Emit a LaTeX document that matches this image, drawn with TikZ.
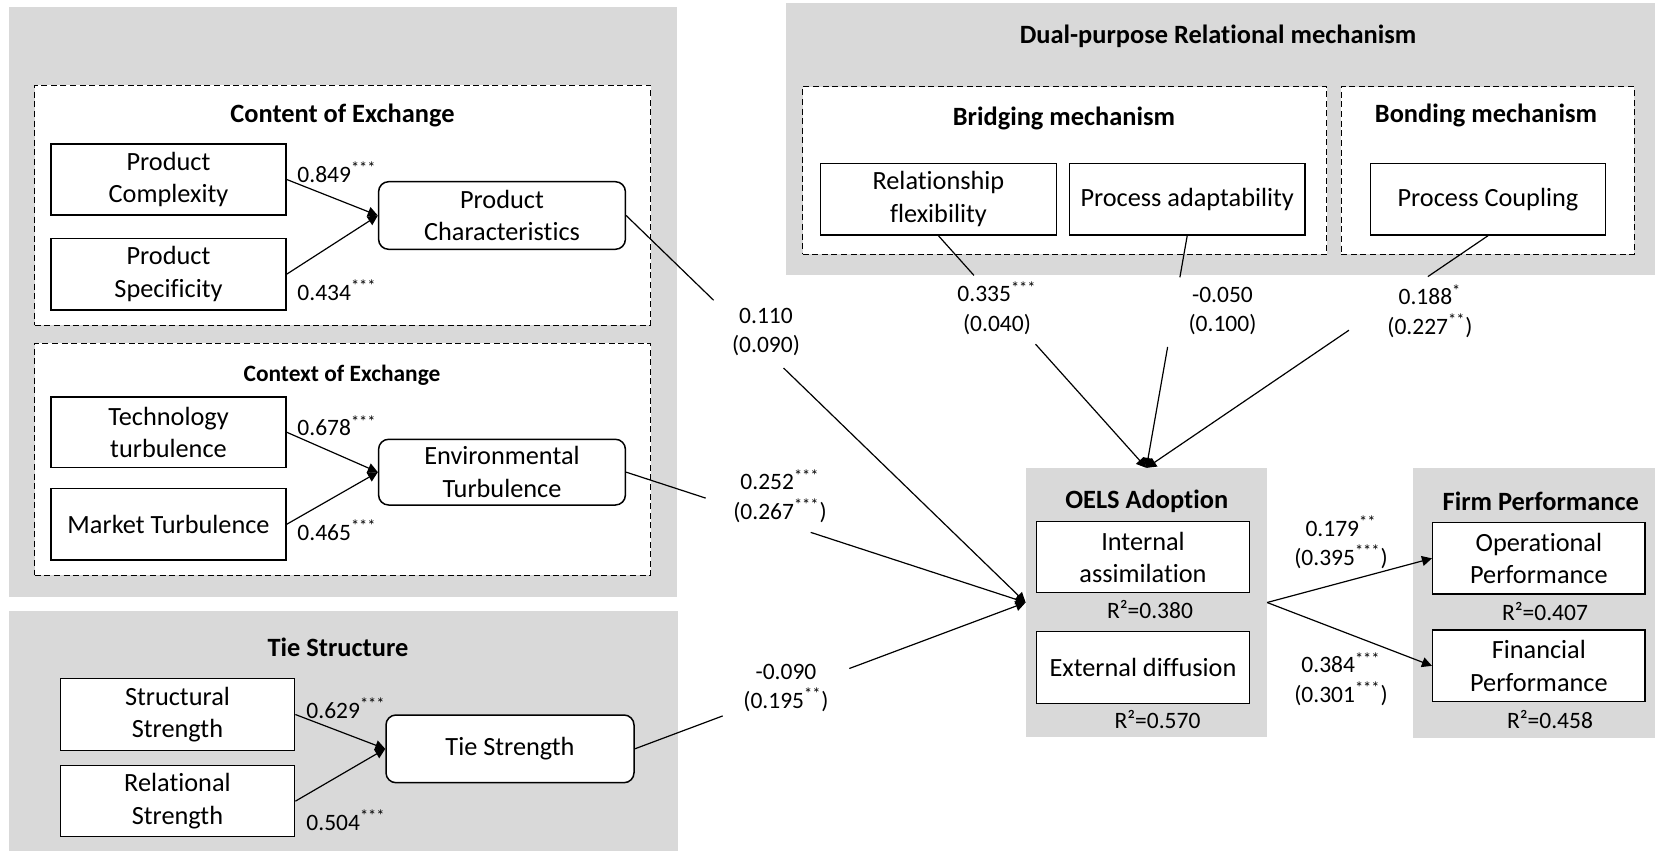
\documentclass[tikz,border=0pt]{standalone}
\usepackage{fontspec}
\setmainfont{Carlito}[Ligatures=NoCommon]
\usetikzlibrary{arrows.meta,calc,fit}
\definecolor{panelgray}{RGB}{217,217,217}
\newcommand\bodysize{\fontsize{13.15}{16.2}\selectfont}
\newcommand\coefsize{\fontsize{11.75}{14.6}\selectfont}
\newcommand\sig[1]{\textsuperscript{#1}}
\begin{document}
\begin{tikzpicture}[x=0.5pt,y=-0.5pt,
  panel/.style={fill=panelgray, draw=none, inner sep=0pt},
  dashbox/.style={draw, fill=white, dash pattern=on 3pt off 1.8pt, line width=0.5pt, inner sep=0pt},
  box/.style={draw, fill=white, line width=0.75pt, inner sep=0pt, align=center, font=\bodysize},
  wide/.style 2 args={minimum width=#1, minimum height=#2},
  rbox/.style={box, rounded corners=5pt},
  heading/.style={font=\bfseries\fontsize{13.2}{16}\selectfont, inner sep=0pt},
  subheading/.style={font=\bfseries\fontsize{11.7}{14}\selectfont, inner sep=0pt},
  coef/.style={font=\coefsize, align=center, inner sep=0pt},
  link/.style={line width=0.6pt},
  arr/.style={link, -{Triangle[length=5pt,width=5pt]}}]
\useasboundingbox (0,0) rectangle (1655,851);

% grey panels
\node[panel, fit={(8.7,6.7)(677,597)}] (pA) {};
\node[panel, fit={(785.7,3.3)(1655,275)}] (pB) {};
\node[panel, fit={(8.9,610.7)(677.6,851)}] (pC) {};
\node[panel, fit={(1026,468.3)(1266.7,736.7)}] (oels) {};
\node[panel, fit={(1413.3,468.3)(1655,738.3)}] (firm) {};

% dashed groups
\node[dashbox, fit={(34.7,85)(650.5,325)}] (dContent) {};
\node[dashbox, fit={(34.7,343.3)(650.5,575)}] (dContext) {};
\node[dashbox, fit={(802.5,86.7)(1326.9,254.3)}] (dBridge) {};
\node[dashbox, fit={(1341.2,86.7)(1634,254.3)}] (dBond) {};

% headings
\node[heading] (hContent) at (342.5,115) {Content of Exchange};
\node[subheading] (hContext) at (342,375) {Context of Exchange};
\node[heading] (hTie) at (338,647) {Tie Structure};
\node[heading] (hDual) at (1218,36.7) {Dual-purpose Relational mechanism};
\node[heading] (hBridge) at (1064,118.3) {Bridging mechanism};
\node[heading] (hBond) at (1486,115) {Bonding mechanism};
\node[heading] (hOels) at (1146.7,501.7) {OELS Adoption};
\node[heading] (hFirm) at (1540.8,501.7) {Firm Performance};

% constructs
\node[box, wide={117.5pt}{35.5pt}] (pcx) at (168.5,179.5) {Product\\Complexity};
\node[box, wide={117.5pt}{35.85pt}] (psp) at (168.5,274.15) {Product\\Specificity};
\node[rbox, wide={123.4pt}{33.8pt}] (pch) at (502,215.5) {Product\\Characteristics};
\node[box, wide={117.5pt}{35.25pt}] (ttb) at (168.5,432.25) {Technology\\turbulence};
\node[box, wide={117.5pt}{35.75pt}] (mtb) at (168.5,524.25) {Market Turbulence};
\node[rbox, wide={123.4pt}{32.85pt}] (env) at (502,472.15) {Environmental\\Turbulence};
\node[box, wide={117.15pt}{36.2pt}] (sst) at (177.45,714.5) {Structural\\Strength};
\node[box, wide={117.15pt}{35.5pt}] (rst) at (177.45,801.2) {Relational\\Strength};
\node[rbox, wide={124pt}{33.85pt}] (tie) at (510,748.85) {Tie Strength};
\node[box, wide={117.85pt}{35.85pt}] (rfx) at (938.45,199.15) {Relationship\\flexibility};
\node[box, wide={117.8pt}{35.85pt}] (pad) at (1187.2,199.15) {Process adaptability};
\node[box, wide={117.55pt}{35.85pt}] (pcp) at (1487.95,199.15) {Process Coupling};
\node[box, wide={106.3pt}{35.5pt}] (ias) at (1143,557.2) {Internal\\assimilation};
\node[box, wide={106.3pt}{35.8pt}] (edf) at (1143,667.5) {External diffusion};
\node[box, wide={106.15pt}{35.65pt}] (opp) at (1538.85,558.35) {Operational\\Performance};
\node[box, wide={106.15pt}{35.85pt}] (fnp) at (1538.85,665.85) {Financial\\Performance};

% explained variance
\node[coef] (r1) at (1150,610) {R²=0.380};
\node[coef] (r2) at (1157.5,719.3) {R²=0.570};
\node[coef] (r3) at (1545,611.7) {R²=0.407};
\node[coef] (r4) at (1550,720) {R²=0.458};

% first-order loadings
\draw[arr] (pcx.east) -- (pch.west);
\draw[arr] (psp.east) -- (pch.west);
\draw[arr] (ttb.east) -- (env.west);
\draw[arr] (mtb.east) -- (env.west);
\draw[arr] (sst.east) -- (tie.west);
\draw[arr] (rst.east) -- (tie.west);
\node[coef] (c1) at (337,172) {0.849\sig{***}};
\node[coef] (c2) at (337,290) {0.434\sig{***}};
\node[coef] (c3) at (337,425.7) {0.678\sig{***}};
\node[coef] (c4) at (337,530) {0.465\sig{***}};
\node[coef] (c5) at (346,708.3) {0.629\sig{***}};
\node[coef] (c6) at (346,820) {0.504\sig{***}};

% structural paths into OELS adoption (broken around their coefficients)
\draw[link] (pch.east) -- ($(pch.east)!0.219!(oels.west)$);
\draw[arr] ($(pch.east)!0.394!(oels.west)$) -- (oels.west);
\draw[link] (env.east) -- ($(env.east)!0.199!(oels.west)$);
\draw[arr] ($(env.east)!0.462!(oels.west)$) -- (oels.west);
\draw[link] (tie.east) -- ($(tie.east)!0.225!(oels.west)$);
\draw[arr] ($(tie.east)!0.549!(oels.west)$) -- (oels.west);
\draw[link] (rfx.south) -- ($(rfx.south)!0.171!(oels.north)$);
\draw[arr] ($(rfx.south)!0.467!(oels.north)$) -- (oels.north);
\draw[link] (pad.south) -- ($(pad.south)!0.179!(oels.north)$);
\draw[arr] ($(pad.south)!0.479!(oels.north)$) -- (oels.north);
\draw[link] (pcp.south) -- ($(pcp.south)!0.176!(oels.north)$);
\draw[arr] ($(pcp.south)!0.407!(oels.north)$) -- (oels.north);

\node[coef] (k1) at (766,332) {0.110\\(0.090)};
\node[coef] (k2) at (780,496) {0.252\sig{***}\\(0.267\sig{***})};
\node[coef] (k3) at (786,688) {-0.090\\(0.195\sig{**})};
\node[coef] (k4) at (997,308) {0.335\sig{***}\\(0.040)};
\node[coef] (k5) at (1222.5,311) {-0.050\\(0.100)};
\node[coef] (k6) at (1430,311) {0.188\sig{*}\\(0.227\sig{**})};

% paths to firm performance
\draw[arr] (oels.east) -- (opp.west);
\draw[arr] (oels.east) -- (fnp.west);
\node[coef] (k7) at (1341,542.5) {0.179\sig{**}\\(0.395\sig{***})};
\node[coef] (k8) at (1341,679) {0.384\sig{***}\\(0.301\sig{***})};
\end{tikzpicture}
\end{document}
